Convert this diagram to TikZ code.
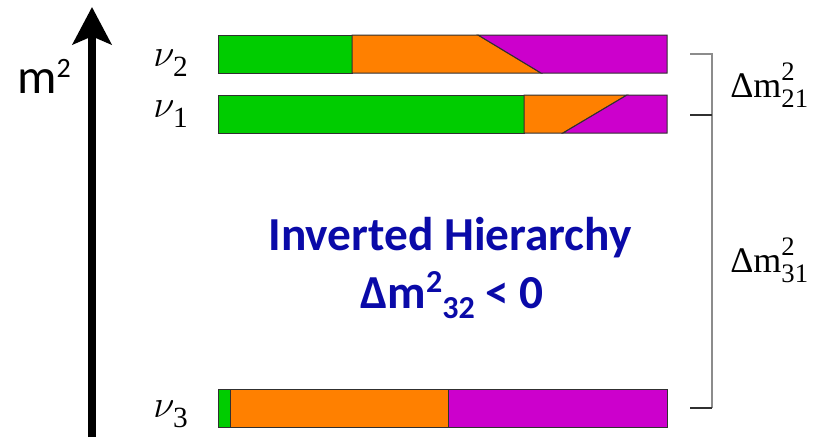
\documentclass[tikz,border=0pt]{standalone}
\usepackage{fix-cm}
\usepackage{fontspec}
\usepackage{tikz}
\usepackage{xcolor}
\usetikzlibrary{arrows.meta,positioning,calc}
\setmainfont{Liberation Serif}
\newfontfamily\calib{Carlito}
\definecolor{BarGreen}{HTML}{00CC00}
\definecolor{BarOrange}{HTML}{FF8000}
\definecolor{BarMagenta}{HTML}{CC00CC}
\definecolor{HierBlue}{HTML}{0A0AA8}
\definecolor{Edge}{HTML}{303030}
\definecolor{BrkGray}{HTML}{8C8C8C}
\newcommand\nulabel[1]{$\nu$\kern-1pt\raisebox{-7.5pt}{\fontsize{22}{22}\selectfont #1}}
\newcommand\dmlabel[1]{Δm\rlap{\raisebox{12.5pt}{\fontsize{20}{20}\selectfont 2}}\raisebox{-8pt}{\fontsize{20}{20}\selectfont #1}}

\begin{document}
\begin{tikzpicture}[x=0.75pt,y=-0.75pt,
  seg/.style={draw=Edge,line width=0.75pt,line join=miter},
  nulab/.style={inner sep=0pt,anchor=base west,font=\fontsize{29}{32}\selectfont},
  dmlab/.style={inner sep=0pt,anchor=base west,font=\fontsize{27}{32}\selectfont},
  hier/.style={inner sep=0pt,anchor=base,text=HierBlue,font=\calib\bfseries\fontsize{35.5}{40}\selectfont},
  brk/.style={draw=BrkGray,line width=1.2pt},
  tick/.style={draw=Edge,line width=1pt},
  axisarrow/.style={-{Stealth[length=28pt,width=29pt,inset=6pt]},line width=6pt,draw=black}
]
\useasboundingbox (0,0) rectangle (832,439);

% mass axis
\coordinate (axbot) at (92,437);
\coordinate (axtop) at (92,7);
\draw[axisarrow] (axbot) -- (axtop);
\node[inner sep=0pt,anchor=base west] (msq) at (17,93)
  {\calib\fontsize{37}{40}\selectfont m\raisebox{12pt}{\fontsize{21}{21}\selectfont 2}};

% nu_2
\filldraw[seg,fill=BarGreen] (218,35) rectangle (352,73);
\filldraw[seg,fill=BarOrange] (352,35) -- (478,35) -- (541,73) -- (352,73) -- cycle;
\filldraw[seg,fill=BarMagenta] (478,35) -- (667,35) -- (667,73) -- (541,73) -- cycle;
\node[nulab] (nu2) at (153,66) {\nulabel{2}};

% nu_1
\filldraw[seg,fill=BarGreen] (218,95) rectangle (524,133);
\filldraw[seg,fill=BarOrange] (524,95) -- (627,95) -- (563,133) -- (524,133) -- cycle;
\filldraw[seg,fill=BarMagenta] (627,95) -- (667,95) -- (667,133) -- (563,133) -- cycle;
\node[nulab] (nu1) at (153,117) {\nulabel{1}};

% nu_3
\filldraw[seg,fill=BarGreen] (218,389) rectangle (230,427);
\filldraw[seg,fill=BarOrange] (230,389) rectangle (448,427);
\filldraw[seg,fill=BarMagenta] (448,389) rectangle (667,427);
\node[nulab] (nu3) at (153,417) {\nulabel{3}};

% splittings
\coordinate (top21) at (690,54);
\coordinate (mid21) at (690,115);
\coordinate (bot31) at (690,408);
\draw[brk] (top21) -| ($(bot31)+(22,0)$);
\draw[tick] (mid21) -- ++(22,0);
\draw[tick] (bot31) -- ++(22,0);
\node[dmlab] (dm21) at (730,97) {\dmlabel{21}};
\node[dmlab] (dm31) at (730,272) {\dmlabel{31}};

\node[hier] (title) at (450,250) {Inverted Hierarchy};
\node[hier] (sign) at (452,308)
  {Δm\raisebox{12pt}{\fontsize{24}{24}\selectfont 2}\raisebox{-7.5pt}{\fontsize{24}{24}\selectfont 32} < 0};
\end{tikzpicture}
\end{document}
